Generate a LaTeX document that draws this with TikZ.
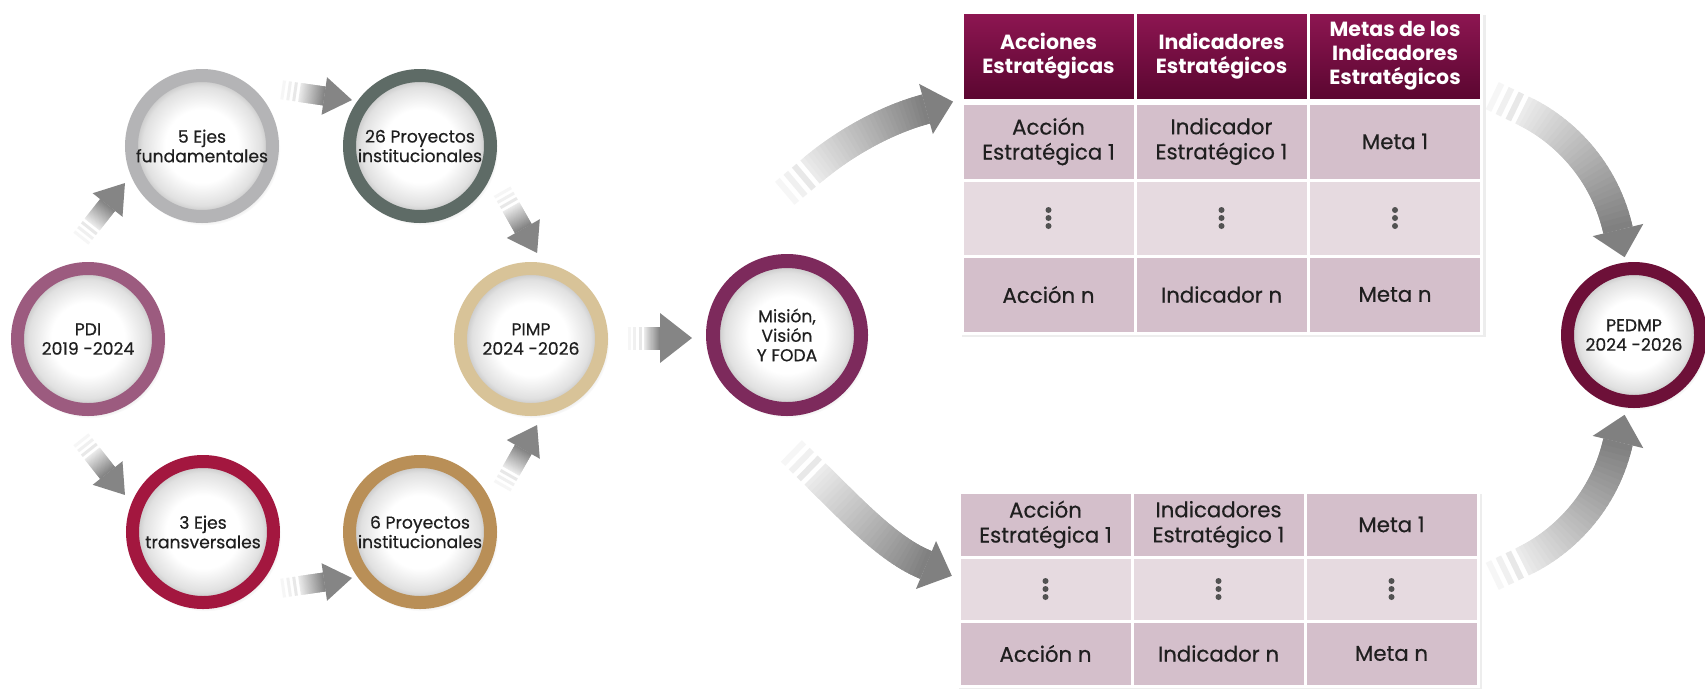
\documentclass[tikz,border=0pt]{standalone}
\usepackage{fontspec}
\setmainfont{Poppins}
\newfontfamily\midfam{Poppins}[FakeBold=0.5]
\usetikzlibrary{calc,shadows}
\definecolor{pdiC}{HTML}{9C5B7F}
\definecolor{ejeC}{HTML}{B4B4B6}
\definecolor{pvtC}{HTML}{5E6B66}
\definecolor{pimC}{HTML}{D8C398}
\definecolor{trsC}{HTML}{A3173F}
\definecolor{psxC}{HTML}{B98F57}
\definecolor{misC}{HTML}{7D2A5C}
\definecolor{pedC}{HTML}{6D1038}
\definecolor{cellC}{HTML}{D4BFCB}
\definecolor{dotC}{HTML}{E6DAE0}
\definecolor{hdrTop}{HTML}{8E1652}
\definecolor{hdrBot}{HTML}{5A0630}
\pgfdeclareradialshading{discfill}{\pgfpoint{0bp}{0bp}}{color(0bp)=(white); color(13bp)=(white); color(21bp)=(black!12); color(24bp)=(black!24); color(50bp)=(black!24)}
\newcommand\cirtxt{\midfam\fontsize{17.2}{19.5}\selectfont}
\newcommand\tabtxt{\midfam\fontsize{21.3}{25}\selectfont}
\newcommand\hdrtxt{\fontsize{20.5}{24}\selectfont\bfseries}
\tikzset{
  ring/.style={circle, draw=#1, line width=13pt, minimum size=141pt, inner sep=0pt,
    align=center, shading=discfill, font=\cirtxt, text=black!88,
    circular drop shadow={shadow xshift=2pt, shadow yshift=-3pt, shadow scale=1.08, opacity=0.18, fill=black}},
  cellbox/.style={rectangle, draw=white, line width=3pt, inner sep=0pt, align=center,
    minimum width=173pt, font=\tabtxt, text=black!88, fill=cellC},
  dotbox/.style={cellbox, fill=dotC},
  hdrbox/.style={cellbox, top color=hdrTop, bottom color=hdrBot, text=white, font=\hdrtxt},
  dotmark/.style={fill=black!68},
}
% #1 name, #2 path, #3 shaft width, #4 head half width, #5 head length, #6 stripe gap, #7 stripe length, #8 end colour pct
\newcommand\gradarrow[8]{%
  \path #2 \foreach \i [evaluate=\i as \t using \i/30] in {0,...,30}{coordinate[pos=\t] (#1-\i)};
  \foreach \i in {0,...,29}{%
    \pgfmathtruncatemacro\j{min(\i+2,30)}%
    \pgfmathsetmacro\c{8+(#8-8)*\i/29}%
    \draw[line width=#3pt, draw=black!\c] (#1-\i) -- (#1-\j);
  }%
  \foreach \k/\cc in {1/9,2/6,3/3.5}{%
    \pgfmathsetlengthmacro\da{-\k*#6}%
    \pgfmathsetlengthmacro\db{-\k*#6+#7}%
    \draw[line width=#3pt, draw=black!\cc] ($(#1-0)!\da!(#1-1)$) -- ($(#1-0)!\db!(#1-1)$);
  }%
  \fill[black!#8] ($(#1-30)!#4pt!90:(#1-29)$) -- ($(#1-30)!-#5pt!(#1-29)$) -- ($(#1-30)!#4pt!-90:(#1-29)$) -- cycle;
}
\begin{document}
\begin{tikzpicture}[x=1pt, y=-1pt]
\useasboundingbox (0,0) rectangle (1705,689);
\fill[white] (0,0) rectangle (1705,689);

% circles
\node[ring=pdiC] (pdi) at (88,339) {PDI\\2019 -2024};
\node[ring=ejeC] (ejes5) at (202,146) {5 Ejes\\fundamentales};
\node[ring=pvtC] (proy26) at (420,146) {26 Proyectos\\institucionales};
\node[ring=pimC] (pimp) at (531,339) {PIMP\\2024 -2026};
\node[ring=trsC] (ejes3) at (203,532) {3 Ejes\\transversales};
\node[ring=psxC] (proy6) at (420,532) {6 Proyectos\\institucionales};
\node[ring=misC, minimum size=148pt, line width=14pt] (mision) at (787,335) {Misión,\\Visión\\Y FODA};
\node[ring=pedC, minimum size=133pt] (pedmp) at (1634,335) {PEDMP\\2024 -2026};

% straight arrows
\coordinate (a1s) at (92.1,224.6);  \coordinate (a1e) at (107.6,205);
\coordinate (a2s) at (299.5,92.4);  \coordinate (a2e) at (324.3,96);
\coordinate (a3s) at (511,206.9);   \coordinate (a3e) at (523.3,228.6);
\coordinate (a4s) at (92.1,453.4);  \coordinate (a4e) at (107.6,473);
\coordinate (a5s) at (299.5,585.6); \coordinate (a5e) at (324.3,582);
\coordinate (a6s) at (511,471.1);   \coordinate (a6e) at (523.3,449.4);
\coordinate (a7s) at (644,338);     \coordinate (a7e) at (660,338);
\gradarrow{ar1}{(a1s) -- (a1e)}{19}{19}{28}{6}{3}{48}
\gradarrow{ar2}{(a2s) -- (a2e)}{19}{19}{28}{6}{3}{48}
\gradarrow{ar3}{(a3s) -- (a3e)}{19}{19}{28}{6}{3}{48}
\gradarrow{ar4}{(a4s) -- (a4e)}{19}{19}{28}{6}{3}{48}
\gradarrow{ar5}{(a5s) -- (a5e)}{19}{19}{28}{6}{3}{48}
\gradarrow{ar6}{(a6s) -- (a6e)}{19}{19}{28}{6}{3}{48}
\gradarrow{ar7}{(a7s) -- (a7e)}{23}{25}{32}{5.5}{3}{48}

% curved arrows
\coordinate (c1s) at (810,172);  \coordinate (c1e) at (926,109);
\coordinate (c2s) at (815,474);  \coordinate (c2e) at (926,565);
\coordinate (c3s) at (1522,110); \coordinate (c3e) at (1618,230);
\coordinate (c4s) at (1522,562); \coordinate (c4e) at (1618,442);
\gradarrow{cr1}{(c1s) .. controls (845,142) and (888,119) .. (c1e)}{30}{26}{28}{11}{6}{50}
\gradarrow{cr2}{(c2s) .. controls (848,506) and (888,550) .. (c2e)}{30}{26}{28}{11}{6}{50}
\gradarrow{cr3}{(c3s) .. controls (1565,130) and (1605,172) .. (c3e)}{30}{26}{28}{11}{6}{50}
\gradarrow{cr4}{(c4s) .. controls (1565,542) and (1605,500) .. (c4e)}{30}{26}{28}{11}{6}{50}

% top table
\fill[black!7] (962,15) rectangle (1486,337);
\node[hdrbox, minimum height=88pt] (th1) at (1048.5,56) {Acciones\\Estratégicas};
\node[hdrbox, minimum height=88pt] (th2) at (1221.5,56) {Indicadores\\Estratégicos};
\node[hdrbox, minimum height=88pt] (th3) at (1395,56) {Metas de los\\Indicadores\\Estratégicos};
\node[cellbox, minimum height=77pt] (t11) at (1048.5,141.5) {Acción\\Estratégica 1};
\node[cellbox, minimum height=77pt] (t12) at (1221.5,141.5) {Indicador\\Estratégico 1};
\node[cellbox, minimum height=77pt] (t13) at (1395,141.5) {Meta 1};
\node[dotbox, minimum height=76pt] (t21) at (1048.5,218) {};
\node[dotbox, minimum height=76pt] (t22) at (1221.5,218) {};
\node[dotbox, minimum height=76pt] (t23) at (1395,218) {};
\node[cellbox, minimum height=77pt] (t31) at (1048.5,294.5) {Acción n};
\node[cellbox, minimum height=77pt] (t32) at (1221.5,294.5) {Indicador n};
\node[cellbox, minimum height=77pt] (t33) at (1395,294.5) {Meta n};

% bottom table
\fill[black!7] (959,494) rectangle (1482,689);
\node[cellbox, minimum height=65pt] (b11) at (1045.5,524.5) {Acción\\Estratégica 1};
\node[cellbox, minimum height=65pt] (b12) at (1218.5,524.5) {Indicadores\\Estratégico 1};
\node[cellbox, minimum height=65pt] (b13) at (1391.5,524.5) {Meta 1};
\node[dotbox, minimum height=64pt] (b21) at (1045.5,589) {};
\node[dotbox, minimum height=64pt] (b22) at (1218.5,589) {};
\node[dotbox, minimum height=64pt] (b23) at (1391.5,589) {};
\node[cellbox, minimum height=65pt] (b31) at (1045.5,653.5) {Acción n};
\node[cellbox, minimum height=65pt] (b32) at (1218.5,653.5) {Indicador n};
\node[cellbox, minimum height=65pt] (b33) at (1391.5,653.5) {Meta n};

% vertical dots
\foreach \n in {t21,t22,t23,b21,b22,b23}{
  \foreach \d in {-8,0,8}{\fill[dotmark] ($(\n.center)+(0,\d)$) circle (3pt);}
}
\end{tikzpicture}
\end{document}
